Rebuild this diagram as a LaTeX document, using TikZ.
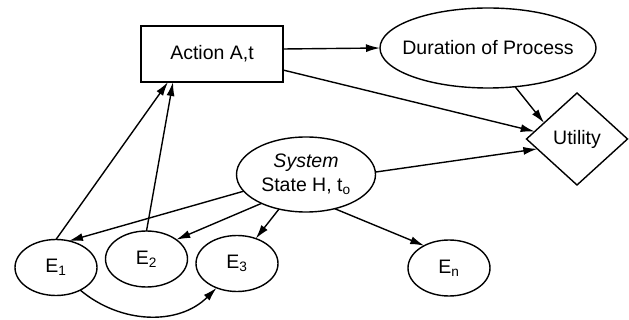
\documentclass[tikz,border=0pt]{standalone}
\usepackage{fontspec}
\setmainfont{Liberation Sans}
\usetikzlibrary{shapes.geometric,arrows.meta}
\begin{document}
\begin{tikzpicture}[x=1pt,y=-1pt,
  every node/.style={font=\fontsize{19.5}{24}\selectfont, inner sep=0pt, outer sep=0pt},
  conn/.style={line width=1.4pt, -{Latex[length=14pt,width=8pt]}},
  ell/.style={draw, ellipse, line width=1.4pt},
  evt/.style={ell, minimum width=82pt, minimum height=56pt},
  actbox/.style={draw, rectangle, line width=1.4pt, minimum width=142pt, minimum height=56pt},
  utilbox/.style={draw, diamond, line width=1.4pt, minimum width=101pt, minimum height=92pt}
]
\useasboundingbox (0,0) rectangle (629,320);

\node[actbox] (act) at (212,54) {Action A,t};
\node[ell, minimum width=216pt, minimum height=80pt, label={center:Duration of Process}] (dur) at (488,48) {};
\node[utilbox, label={center:Utility}] (util) at (577,139) {};
\node[ell, minimum width=139pt, minimum height=75pt,
      label={[align=center]center:{\itshape System}\\State H, t\textsubscript{o}}] (sys) at (306,174.5) {};
\node[evt, label={center:E\textsubscript{1}}] (e1) at (56,267.5) {};
\node[evt, label={center:E\textsubscript{2}}] (e2) at (146.5,259) {};
\node[evt, label={center:E\textsubscript{3}}] (e3) at (237,263.5) {};
\node[evt, label={center:E\textsubscript{n}}] (en) at (449,268) {};

\draw[conn] ([yshift=5pt]act.east) -- (dur.west);
\draw[conn] ([yshift=-16pt]act.east) -- (util.170);
\draw[conn] (dur.-55) -- (util.154);
\draw[conn] (sys.2) -- (util.194);
\draw[conn] (sys.195) -- (e1.64);
\draw[conn] (sys.213) -- (e2.33);
\draw[conn] (sys.232) -- (e3.53);
\draw[conn] (sys.-50) -- (en.138);
\draw[conn] (e1.north) -- ([xshift=-44pt]act.south);
\draw[conn] (e2.north) -- ([xshift=-39pt]act.south);
\draw[conn] (e1.-43) to[out=-40, in=-135] (e3.230);
\end{tikzpicture}
\end{document}
